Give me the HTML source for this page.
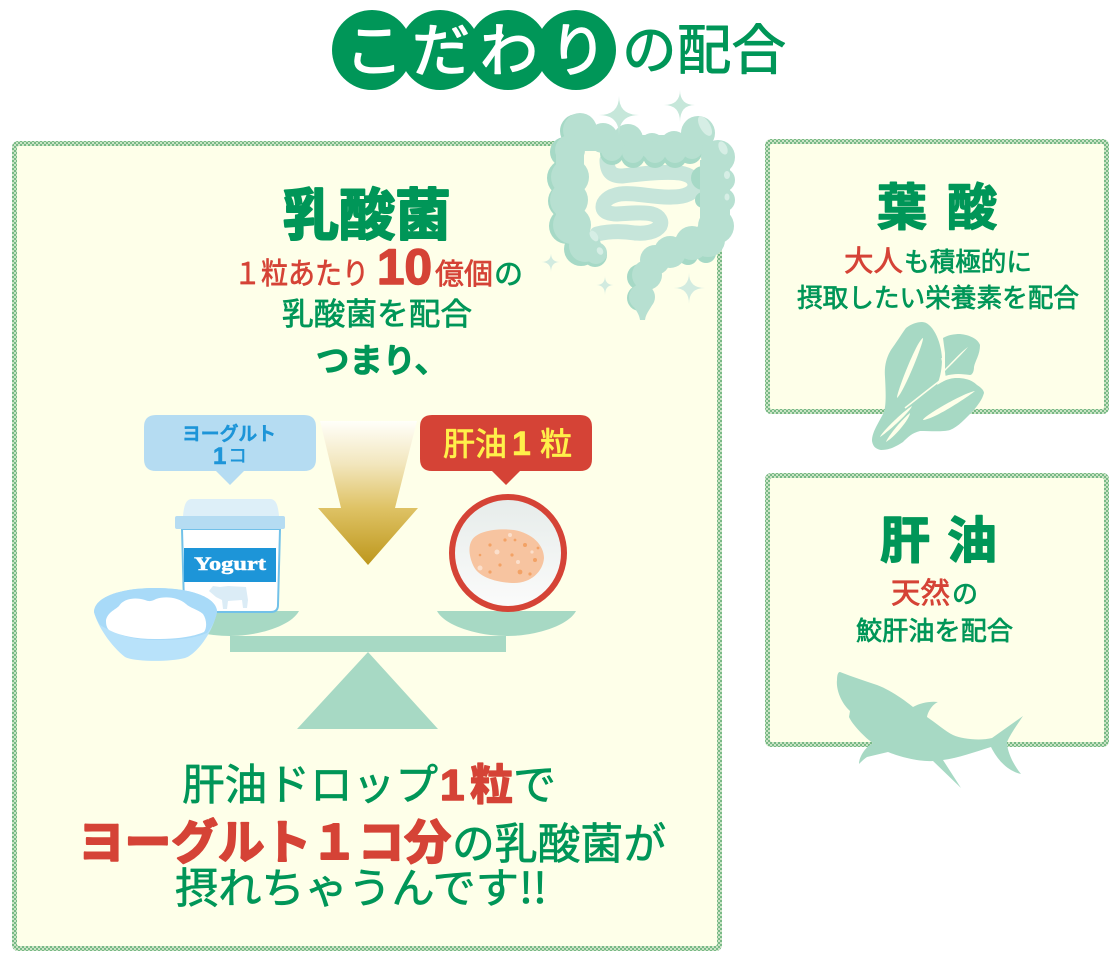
<!DOCTYPE html>
<html lang="ja"><head><meta charset="utf-8"><title>こだわりの配合</title>
<style>
html,body{margin:0;padding:0;background:#fff;width:1118px;height:960px;overflow:hidden}
svg{display:block}
text{font-family:"Noto Sans CJK JP","Liberation Sans",sans-serif;stroke-linejoin:round}
.g{fill:#009658;stroke:#009658}
.r{fill:#d54336;stroke:#d54336}
.n{font-weight:400;stroke-width:.7}
.b{font-weight:500;stroke-width:1.6}
</style></head><body>
<svg width="1118" height="960" viewBox="0 0 1118 960" xmlns="http://www.w3.org/2000/svg">
<defs>
<pattern id="chk" width="4" height="4" patternUnits="userSpaceOnUse">
<rect width="4" height="4" fill="#cbe4c5"/><rect width="2" height="2" fill="#78b986"/><rect x="2" y="2" width="2" height="2" fill="#78b986"/>
</pattern>
<linearGradient id="ag" x1="0" y1="0" x2="0" y2="1">
<stop offset="0" stop-color="#fffffa"/><stop offset=".3" stop-color="#f2e6bd"/><stop offset=".6" stop-color="#dfc366"/><stop offset="1" stop-color="#bd971c"/>
</linearGradient>
<linearGradient id="cg" x1="0" y1="0" x2="0" y2="1">
<stop offset="0" stop-color="#e6ecea"/><stop offset="1" stop-color="#fbfbfb"/>
</linearGradient>
</defs>

<!-- boxes -->
<rect x="12" y="141" width="710" height="810" rx="6" fill="url(#chk)"/>
<rect x="17" y="146" width="700" height="800" rx="2" fill="#feffe9"/>
<rect x="765" y="139" width="344" height="275" rx="6" fill="url(#chk)"/>
<rect x="770" y="144" width="334" height="265" rx="2" fill="#feffe9"/>
<rect x="765" y="473" width="344" height="274" rx="6" fill="url(#chk)"/>
<rect x="770" y="478" width="334" height="264" rx="2" fill="#feffe9"/>

<!-- title -->
<g fill="#009658"><circle cx="372" cy="50" r="40"/><circle cx="440" cy="50" r="40"/><circle cx="508" cy="50" r="40"/><circle cx="576" cy="50" r="40"/></g>
<g fill="#fff" stroke="#fff" stroke-width="1.5" font-weight="400" font-size="58" text-anchor="middle">
<text x="374" y="71">こ</text><text x="441" y="71">だ</text><text x="509" y="71">わ</text><text x="578" y="71">り</text>
</g>
<text class="g" x="622" y="69" font-size="54" font-weight="400" stroke-width="1" textLength="164" lengthAdjust="spacingAndGlyphs">の配合</text>

<!-- intestine -->
<path d="M607 160 C607 172 612 176 622 176 C640 174 665 171 680 173 C692 175 695 180 695 185 C695 193 685 197 672 197 C655 198 635 192 620 194 C608 196 603 202 603 207 C603 212 610 214 617 214 C630 213 645 212 652 214 C660 216 662 222 660 226 C656 232 645 234 635 233 C622 231 610 231 597 234" fill="none" stroke="#c6e5da" stroke-width="15" stroke-linecap="round"/>
<g fill="#a6d9c6">
<circle cx="577" cy="131" r="17"/><circle cx="565" cy="152" r="15"/><circle cx="566" cy="178" r="19"/><circle cx="566" cy="201" r="18"/><circle cx="567" cy="226" r="18"/><circle cx="581" cy="249" r="17"/><circle cx="595" cy="255" r="12"/>
<circle cx="612" cy="153" r="12"/><circle cx="633" cy="156" r="12"/><circle cx="655" cy="156" r="12"/><circle cx="675" cy="156" r="12"/><circle cx="690" cy="152" r="12"/>
<circle cx="703" cy="178" r="12"/><circle cx="703" cy="200" r="8"/><circle cx="688" cy="255" r="10"/><circle cx="706" cy="253" r="10"/><circle cx="640" cy="277" r="13"/><circle cx="640" cy="298" r="13"/>
</g>
<g fill="#b7e0d1">
<circle cx="580" cy="130" r="17"/><circle cx="603" cy="138" r="15"/><circle cx="628" cy="139" r="15"/><circle cx="652" cy="146" r="13"/><circle cx="674" cy="145" r="14"/><circle cx="698" cy="133" r="17"/><circle cx="718" cy="157" r="17"/><circle cx="570" cy="150" r="15"/>
<rect x="575" y="135" width="135" height="16"/>
<circle cx="612" cy="150" r="11"/><circle cx="633" cy="152" r="11"/><circle cx="655" cy="152" r="11"/><circle cx="675" cy="152" r="11"/><circle cx="692" cy="148" r="11"/>
<circle cx="715" cy="178" r="15"/><circle cx="723" cy="180" r="12"/><circle cx="716" cy="200" r="14"/><circle cx="723" cy="200" r="12"/><circle cx="716" cy="226" r="18"/><circle cx="708" cy="240" r="17"/><circle cx="692" cy="243" r="17"/><circle cx="670" cy="252" r="16"/><circle cx="655" cy="260" r="15"/><circle cx="647" cy="275" r="15"/><circle cx="642" cy="297" r="13"/>
<circle cx="570" cy="177" r="19"/><circle cx="569" cy="200" r="19"/><circle cx="572" cy="225" r="19"/><circle cx="585" cy="246" r="16"/><circle cx="596" cy="253" r="11"/>
<rect x="556" y="150" width="28" height="85"/><rect x="700" y="160" width="30" height="70"/>
<path d="M631 300 C633 308 639 312 640 320 L645 320 C646 312 652 308 654 300Z"/>
</g>
<g fill="#d6eee5">
<ellipse cx="705" cy="126" rx="5" ry="11" transform="rotate(-30 705 126)"/><ellipse cx="723" cy="148" rx="4" ry="7" transform="rotate(-25 723 148)"/><ellipse cx="727" cy="175" rx="3" ry="4"/><ellipse cx="727" cy="197" rx="2.5" ry="3.5"/><ellipse cx="594" cy="236" rx="3.5" ry="6" transform="rotate(-35 594 236)"/><ellipse cx="600" cy="251" rx="3" ry="4" transform="rotate(-30 600 251)"/>
</g>
<!-- sparkles -->
<g fill="#c6e7da">
<path d="M619 96Q619 115 639 115Q619 115 619 135Q619 115 599 115Q619 115 619 96Z"/>
<path d="M680 90Q680 105 695 105Q680 105 680 122Q680 105 664 105Q680 105 680 90Z"/>
</g>
<g fill="#d2ebe0">
<path d="M551 253Q551 262 560 262Q551 262 551 272Q551 262 541 262Q551 262 551 253Z"/>
<path d="M605 276Q605 285 614 285Q605 285 605 295Q605 285 596 285Q605 285 605 276Z"/>
<path d="M689 273Q689 288 705 288Q689 288 689 304Q689 288 674 288Q689 288 689 273Z"/>
</g>

<!-- lactic text -->
<text class="g" x="283" y="235" font-size="56" font-weight="700" stroke-width="2" textLength="168" lengthAdjust="spacingAndGlyphs">乳酸菌</text>
<text class="r n" x="234" y="284" font-size="30" textLength="135" lengthAdjust="spacingAndGlyphs">１粒あたり</text>
<text class="r" x="377" y="284" font-size="50" font-weight="700" stroke-width="1.5" textLength="55" lengthAdjust="spacingAndGlyphs" style="font-family:'Liberation Sans',sans-serif">10</text>
<text class="r n" x="435" y="284" font-size="29" textLength="58" lengthAdjust="spacingAndGlyphs">億個</text>
<text class="g n" x="494" y="284" font-size="29" textLength="29" lengthAdjust="spacingAndGlyphs">の</text>
<text class="g n" x="282" y="325" font-size="31" textLength="190" lengthAdjust="spacingAndGlyphs">乳酸菌を配合</text>
<text class="g b" x="316" y="372" font-size="33" textLength="132" lengthAdjust="spacingAndGlyphs">つまり、</text>

<!-- callouts -->
<path d="M156 415H304Q316 415 316 427V459Q316 471 304 471H244L230 485L216 471H156Q144 471 144 459V427Q144 415 156 415Z" fill="#b5dcf2"/>
<text x="182" y="440" font-size="19" font-weight="500" fill="#1d95d8" stroke="#1d95d8" stroke-width=".8" textLength="94" lengthAdjust="spacingAndGlyphs">ヨーグルト</text>
<text x="213" y="464" font-size="24" font-weight="700" fill="#1d95d8" stroke="#1d95d8" stroke-width=".6" style="font-family:'Liberation Sans',sans-serif">1</text>
<text x="228" y="462" font-size="19" font-weight="500" fill="#1d95d8">コ</text>
<path d="M432 415H580Q592 415 592 427V459Q592 471 580 471H520L506 485L492 471H432Q420 471 420 459V427Q420 415 432 415Z" fill="#d54336"/>
<text x="443" y="455" font-size="32" font-weight="400" fill="#fff04a" stroke="#fff04a" stroke-width=".8" textLength="64" lengthAdjust="spacingAndGlyphs">肝油</text>
<text x="512" y="455" font-size="34" font-weight="700" fill="#fff04a" stroke="#fff04a" stroke-width=".5" style="font-family:'Liberation Sans',sans-serif">1</text>
<text x="540" y="455" font-size="32" font-weight="400" fill="#fff04a" stroke="#fff04a" stroke-width=".8">粒</text>

<!-- arrow -->
<path d="M320 421H417L395 508H418L368 565L318 508H341Z" fill="url(#ag)"/>

<!-- scale -->
<g fill="#a7d9c4">
<path d="M437 611H576C568 626 535 636 507 636C478 636 445 626 437 611Z"/>
<path d="M160 611H299C291 626 258 636 230 636C201 636 168 626 160 611Z"/>
<rect x="230" y="636" width="276" height="16"/>
<path d="M368 652L438 729H297Z"/>
</g>

<!-- drop -->
<circle cx="508" cy="553" r="56" fill="url(#cg)" stroke="#d54336" stroke-width="6"/>
<path d="M472 540C478 531 496 528 514 530C532 533 544 545 544 558C543 572 530 584 512 583C495 582 478 577 473 565C469 556 468 546 472 540Z" fill="#f7c4a0"/>
<g fill="#f3a265"><circle cx="490" cy="545" r="1.6"/><circle cx="505" cy="540" r="1.6"/><circle cx="525" cy="545" r="2"/><circle cx="535" cy="560" r="2"/><circle cx="520" cy="572" r="2.4"/><circle cx="500" cy="565" r="1.6"/><circle cx="480" cy="555" r="1.3"/><circle cx="512" cy="555" r="1.6"/><circle cx="530" cy="574" r="1.6"/><circle cx="490" cy="572" r="1.6"/><circle cx="538" cy="548" r="1.4"/><circle cx="515" cy="540" r="1.4"/></g>
<g fill="#fbdfcb"><circle cx="480" cy="568" r="2.5"/><circle cx="497" cy="552" r="2.5"/><circle cx="518" cy="562" r="2"/><circle cx="510" cy="535" r="2"/><circle cx="532" cy="552" r="1.6"/></g>

<!-- yogurt -->
<path d="M183 516C184 505 186 499 192 499H270C276 499 278 505 279 516Z" fill="#ddeff8"/>
<path d="M182 529L184 605Q184 612 191 612H271Q278 612 278 605L280 529Z" fill="#fff" stroke="#72c1e9" stroke-width="2"/>
<rect x="175" y="516" width="110" height="13" rx="2" fill="#b5dcf2"/>
<rect x="184" y="548" width="92" height="34" fill="#1d95d8"/>
<text x="194" y="570" font-size="19" font-weight="700" fill="#fff" stroke="#fff" stroke-width=".5" textLength="72" lengthAdjust="spacingAndGlyphs" style="font-family:'Liberation Serif',serif">Yogurt</text>
<path d="M209 591L213 586L220 587L228 586L246 587L248 600L247 608H243L242 600L228 601L227 609H223L222 600L216 597Z" fill="#dbecf6"/>
<path d="M94 612C94 598 118 588 155 588C193 588 217 598 217 612C212 635 195 655 185 658C170 662 135 662 125 657C113 648 98 628 94 612Z" fill="#b8e2fa"/>
<path d="M94 612C94 598 118 588 155 588C193 588 217 598 217 612C215 622 211 628 207 633C190 640 170 640 155 640C135 640 118 636 100 625C97 620 95 616 94 612Z" fill="#a8daf8"/>
<path d="M106 620C108 612 115 610 119 606C124 598 136 597 145 600C150 602 152 601 156 599C165 596 178 597 186 604C190 608 197 609 203 614C207 620 207 628 204 632C190 638 172 639 155 639C138 639 120 636 109 630C106 627 106 623 106 620Z" fill="#fff"/>

<!-- bottom text -->
<text class="g n" x="182" y="800" font-size="43" textLength="256" lengthAdjust="spacingAndGlyphs">肝油ドロップ</text>
<text class="r" x="440" y="800" font-size="44" font-weight="700" stroke-width="1.6" style="font-family:'Liberation Sans',sans-serif">1</text>
<text class="r" x="470" y="800" font-size="43" font-weight="700" stroke-width="1.4">粒</text>
<text class="g n" x="513" y="800" font-size="43" textLength="43" lengthAdjust="spacingAndGlyphs">で</text>
<text class="r" x="78" y="859" font-size="47" font-weight="700" stroke-width="2" textLength="373" lengthAdjust="spacingAndGlyphs">ヨーグルト１コ分</text>
<text class="g n" x="452" y="859" font-size="43" textLength="214" lengthAdjust="spacingAndGlyphs">の乳酸菌が</text>
<text class="g n" x="175" y="903" font-size="42" textLength="372" lengthAdjust="spacingAndGlyphs">摂れちゃうんです!!</text>

<!-- right 1 -->
<text class="g" x="877" y="225" font-size="50" font-weight="700" stroke-width="1.5">葉</text>
<text class="g" x="947" y="225" font-size="50" font-weight="700" stroke-width="1.5">酸</text>
<text class="r n" x="844" y="271" font-size="29" textLength="59" lengthAdjust="spacingAndGlyphs">大人</text>
<text class="g n" x="904" y="271" font-size="26" textLength="128" lengthAdjust="spacingAndGlyphs">も積極的に</text>
<text class="g n" x="797" y="307" font-size="26" textLength="282" lengthAdjust="spacingAndGlyphs">摂取したい栄養素を配合</text>
<!-- spinach -->
<path d="M943 338C948 335 954 334 960 334C970 335 978 339 980 345C980 355 975 361 974 367C974 372 972 375 970 375C962 374 955 373 945 376L945 353Z" fill="#a7d9c4"/>
<path d="M922 322C932 322 941 340 942 358C942 370 940 378 937 385C945 380 950 378 957 378C965 378 972 380 977 385C982 388 984 391 984 393C982 400 978 405 972 412C966 418 958 427 950 430C943 432 930 431 920 431C912 433 908 437 903 442C897 446 890 450 881 450C876 449 873 447 872 441C872 432 878 424 884 412C886 405 886 395 885 377C884 365 887 355 893 347C898 340 903 332 906 328C911 324 917 322 922 322Z" fill="#a7d9c4"/>
<g fill="#feffe9">
<path d="M923 338C924 342 904 392 897 398C896 394 917 340 923 338Z"/>
<path d="M968 347C964 352 952 364 945 371L945 369C951 363 962 351 968 347Z"/>
<path d="M975 391C969 396 935 419 923 420C922 417 963 393 975 391Z"/>
<path d="M912 406C910 412 888 432 880 437C881 433 902 412 912 406Z"/>
<path d="M910 413C910 418 896 436 886 442C887 438 900 421 910 413Z"/>
</g>
<path d="M945 377C930 388 918 398 905 408" fill="none" stroke="#feffe9" stroke-width="1.6"/>
<path d="M942 358C944 366 944 372 945 377" fill="none" stroke="#feffe9" stroke-width="1.6"/>

<!-- right 2 -->
<text class="g" x="880" y="558" font-size="50" font-weight="700" stroke-width="1.5">肝</text>
<text class="g" x="947" y="558" font-size="50" font-weight="700" stroke-width="1.5">油</text>
<text class="r n" x="891" y="603" font-size="29" textLength="59" lengthAdjust="spacingAndGlyphs">天然</text>
<text class="g n" x="952" y="603" font-size="26" textLength="26" lengthAdjust="spacingAndGlyphs">の</text>
<text class="g n" x="856" y="640" font-size="26" textLength="157" lengthAdjust="spacingAndGlyphs">鮫肝油を配合</text>
<!-- shark -->
<path d="M840 672C853 677 865 681 877 685C888 689 902 698 913 707C920 703 930 701 938 702C933 704 928 711 927 717C936 723 945 731 953 735C962 739 980 741 992 738L1023 716C1017 725 1011 733 1007 742C1007 750 1012 763 1021 774C1012 772 1000 765 991 747C975 752 958 758 943 760L961 788L933 761C920 762 900 757 888 752L867 757C864 759 861 762 859 764C859 758 864 748 873 743C865 738 852 724 849 717L850 711C840 702 836 688 837 680C837 675 838 672 840 672Z" fill="#a7d9c4"/>
</svg>
</body></html>
